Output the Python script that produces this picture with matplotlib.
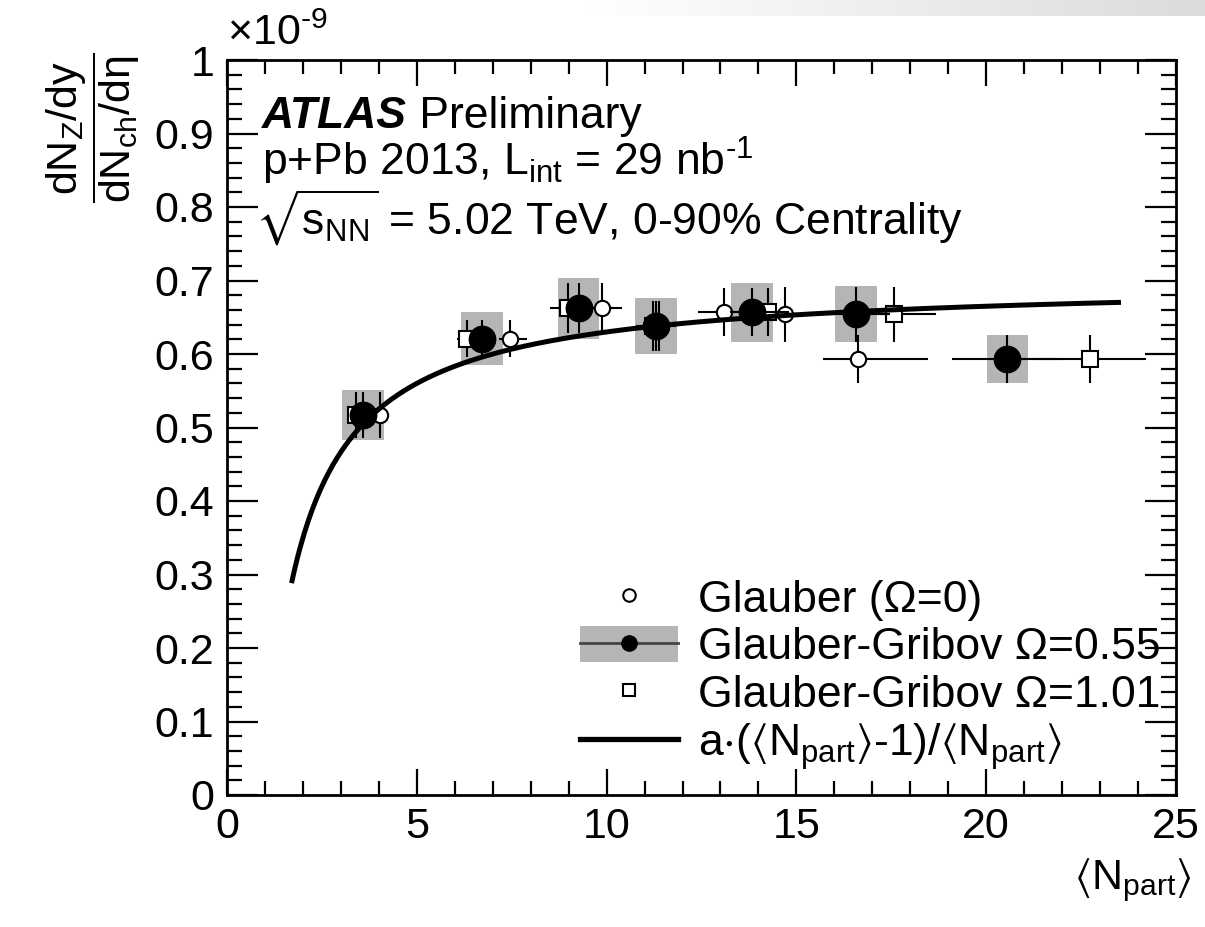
import numpy as np
import matplotlib
matplotlib.use("Agg")
import matplotlib.pyplot as plt
from matplotlib.lines import Line2D
from matplotlib.patches import Patch, Rectangle
from matplotlib.legend_handler import HandlerTuple
from matplotlib.ticker import MultipleLocator, FixedLocator, FixedFormatter

# ---------------- data (values in units of 1e-9) ----------------
ratio = [0.517, 0.621, 0.662, 0.638, 0.657, 0.654, 0.593]
stat_err = [0.031, 0.025, 0.034, 0.034, 0.033, 0.037, 0.033]
syst_err = [0.034, 0.036, 0.042, 0.038, 0.040, 0.038, 0.033]

npart_glauber = [4.03, 7.46, 9.88, 11.38, 13.10, 14.70, 16.63]
npart_glauber_lo = [0.20, 0.30, 0.30, 0.40, 0.70, 0.90, 0.93]
npart_glauber_hi = [0.20, 0.45, 0.52, 0.45, 0.75, 1.20, 1.84]

npart_gg055 = [3.58, 6.72, 9.26, 11.30, 13.84, 16.57, 20.56]
npart_gg055_lo = [0.15, 0.25, 0.30, 0.40, 0.60, 0.90, 1.45]
npart_gg055_hi = [0.15, 0.25, 0.30, 0.40, 0.60, 0.90, 1.45]

npart_gg101 = [3.40, 6.33, 8.98, 11.22, 14.26, 17.57, 22.73]
npart_gg101_lo = [0.10, 0.28, 0.48, 0.45, 0.55, 0.63, 1.50]
npart_gg101_hi = [0.10, 0.28, 0.40, 0.45, 0.55, 1.11, 1.48]

fit_a = 0.70
fit_range = [1.7, 23.55]

x_ticks = [0, 5, 10, 15, 20, 25]
x_ticklabels = ["0", "5", "10", "15", "20", "25"]
y_ticks = [0, 0.1, 0.2, 0.3, 0.4, 0.5, 0.6, 0.7, 0.8, 0.9, 1.0]
y_ticklabels = ["0", "0.1", "0.2", "0.3", "0.4", "0.5", "0.6", "0.7", "0.8", "0.9", "1"]

NPART = r"$\langle$N$_{\mathrm{part}}$$\rangle$"
labels = ["Glauber (\u03a9=0)",
          "Glauber-Gribov \u03a9=0.55",
          "Glauber-Gribov \u03a9=1.01",
          "a$\\cdot$(" + NPART + "-1)/" + NPART]

# ---------------- style ----------------
plt.rcParams["font.family"] = ["Liberation Sans", "DejaVu Sans"]
plt.rcParams["mathtext.fontset"] = "custom"
plt.rcParams["mathtext.rm"] = "Liberation Sans"
plt.rcParams["mathtext.it"] = "Liberation Sans:italic"
plt.rcParams["mathtext.bf"] = "Liberation Sans:bold"
plt.rcParams["mathtext.sf"] = "Liberation Sans"
plt.rcParams["mathtext.fallback"] = "stixsans"

FS = 31
FT = 32
box_gray = "#b5b5b5"

fig = plt.figure(figsize=(12.05, 9.27), dpi=100)

# faint grey gradient band in the top-right corner of the page
grad = np.linspace(1.0, 0.86, 620)[None, :, None] * np.ones((16, 1, 3))
fig.figimage(grad, xo=585, yo=927 - 16, zorder=0)

ax = fig.add_axes([227 / 1205, 1 - 795 / 927, (1176 - 227) / 1205, (795 - 60) / 927])

# systematic boxes for Omega=0.55
box_hw = 0.55
for xc, yc, sy in zip(npart_gg055, ratio, syst_err):
    ax.add_patch(Rectangle((xc - box_hw, yc - sy), 2 * box_hw, 2 * sy,
                           facecolor=box_gray, edgecolor="none", zorder=1))

ebkw = dict(ecolor="black", elinewidth=1.5, capsize=0, linestyle="none")
ax.errorbar(npart_glauber, ratio, yerr=stat_err,
            xerr=[npart_glauber_lo, npart_glauber_hi],
            marker="o", ms=11, mfc="white", mec="black", mew=1.5, zorder=2, **ebkw)
ax.errorbar(npart_gg101, ratio, yerr=stat_err,
            xerr=[npart_gg101_lo, npart_gg101_hi],
            marker="s", ms=11, mfc="white", mec="black", mew=1.5, zorder=2.5, **ebkw)
ax.errorbar(npart_gg055, ratio, yerr=stat_err,
            xerr=[npart_gg055_lo, npart_gg055_hi],
            marker="o", ms=19, mfc="black", mec="black", mew=1, zorder=3, **ebkw)

xf = np.linspace(fit_range[0], fit_range[1], 400)
ax.plot(xf, fit_a * (xf - 1) / xf, color="black", lw=3.6, zorder=4, solid_capstyle="butt")

ax.set_xlim(0, 25)
ax.set_ylim(0, 1)
ax.xaxis.set_major_locator(FixedLocator(x_ticks))
ax.xaxis.set_major_formatter(FixedFormatter(x_ticklabels))
ax.xaxis.set_minor_locator(MultipleLocator(1))
ax.yaxis.set_major_locator(FixedLocator(y_ticks))
ax.yaxis.set_major_formatter(FixedFormatter(y_ticklabels))
ax.yaxis.set_minor_locator(MultipleLocator(0.02))

ax.tick_params(which="both", direction="in", top=True, right=True, width=1.6,
               labelsize=FS, colors="black")
ax.xaxis.set_tick_params(which="major", length=19, pad=9)
ax.xaxis.set_tick_params(which="minor", length=10)
ax.yaxis.set_tick_params(which="major", length=22, pad=9)
ax.yaxis.set_tick_params(which="minor", length=11)
for s in ax.spines.values():
    s.set_linewidth(2.0)

# exponent label
ax.text(0.0, 1.008, "\u00d710$^{\\text{-9}}$", transform=ax.transAxes, ha="left", va="bottom",
        fontsize=FS)

# axis titles
fig.text(93 / 1205, 1 - 128 / 927,
         r"$\dfrac{\mathrm{dN}_{\mathrm{Z}}\mathrm{/dy}}{\mathrm{dN}_{\mathrm{ch}}\mathrm{/d}\mathrm{\eta}}$",
         rotation=90, ha="center", va="center", fontsize=FS)
fig.text(1192 / 1205, 1 - 880 / 927, NPART, ha="right", va="center", fontsize=FS)

# ATLAS label
t1 = ax.text(0.037, 0.907, "ATLAS", transform=ax.transAxes, fontsize=FT,
             fontweight="bold", fontstyle="italic", ha="left", va="baseline")
ax.annotate(" Preliminary", xy=(1, 0), xycoords=t1, fontsize=FT, ha="left", va="bottom")
ax.text(0.037, 0.843, "p+Pb 2013, L$_{\\mathrm{int}}$ = 29 nb$^{\\text{-1}}$",
        transform=ax.transAxes, fontsize=FT, ha="left", va="baseline")
ax.text(0.030, 0.762, r"$\sqrt{\mathrm{s}_{\mathrm{NN}}}$ = 5.02 TeV, 0-90% Centrality",
        transform=ax.transAxes, fontsize=FT, ha="left", va="baseline")

# legend
h_open = Line2D([], [], marker="o", ms=9, mfc="white", mec="black", mew=1.5, ls="none")
h_fill = (Patch(facecolor=box_gray, edgecolor="none"),
          Line2D([], [], color="#444444", lw=2, marker="o", ms=11, mfc="black", mec="black"))
h_sq = Line2D([], [], marker="s", ms=9, mfc="white", mec="black", mew=1.5, ls="none")
h_fit = Line2D([], [], color="black", lw=3.8)
leg = ax.legend([h_open, h_fill, h_sq, h_fit], labels,
                handler_map={tuple: HandlerTuple(ndivide=1, pad=0)},
                loc="upper left", bbox_to_anchor=(0.372, 0.294), frameon=False,
                fontsize=FT, handlelength=2.2, handleheight=0.85, handletextpad=0.45,
                labelspacing=0.12, borderpad=0, borderaxespad=0)

fig.savefig("out.png", dpi=100)
